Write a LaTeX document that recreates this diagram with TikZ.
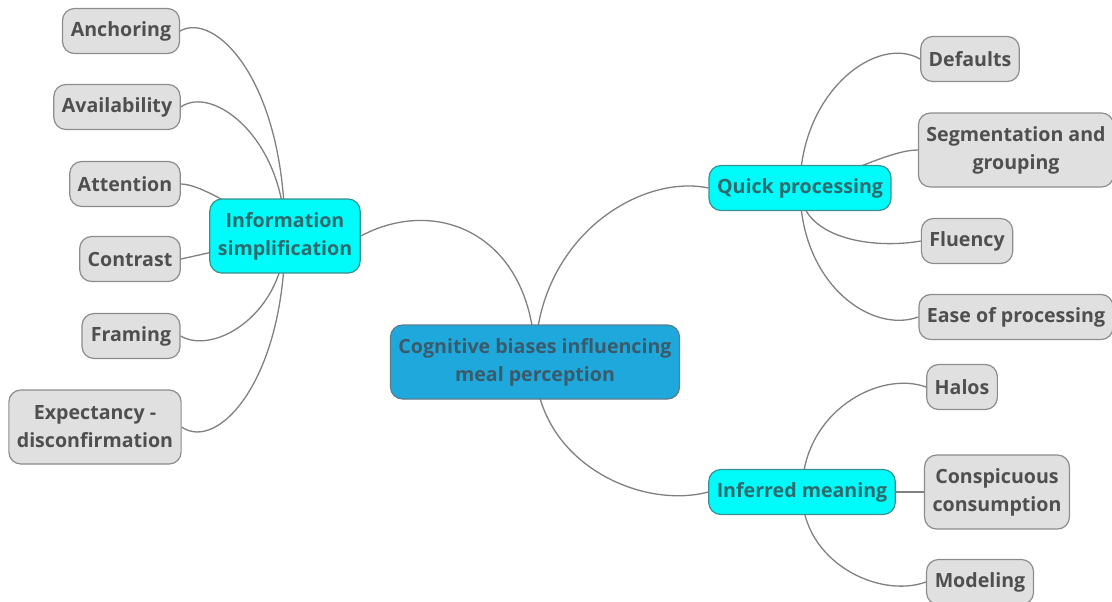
\documentclass[tikz,border=0pt]{standalone}
\usepackage{fontspec}
\setmainfont{Open Sans}
\usetikzlibrary{backgrounds}
\definecolor{leaffill}{HTML}{E0E0E0}
\definecolor{leafline}{HTML}{8C8C8C}
\definecolor{leaftext}{HTML}{4F4F4F}
\definecolor{branchfill}{HTML}{00FBFB}
\definecolor{branchline}{HTML}{3A8F8F}
\definecolor{branchtext}{HTML}{2D6A6C}
\definecolor{rootfill}{HTML}{1FA8DC}
\definecolor{rootline}{HTML}{5B7C8C}
\definecolor{roottext}{HTML}{3B5A6A}
\definecolor{linkgray}{HTML}{808080}
\tikzset{
  topic/.style={rounded corners=6pt, line width=0.6pt, align=center, inner xsep=4pt, inner ysep=3pt,
    minimum height=22.5pt, font=\fontsize{9.8}{14}\selectfont\bfseries},
  leaf/.style={topic, draw=leafline, fill=leaffill, text=leaftext},
  branch/.style={topic, draw=branchline, fill=branchfill, text=branchtext},
  root/.style={topic, draw=rootline, fill=rootfill, text=roottext},
  link/.style={draw=linkgray, line width=0.65pt}
}
\begin{document}
\begin{tikzpicture}[x=0.5pt, y=0.5pt]
    \useasboundingbox (0,0) rectangle (1112,-601);
    \node[root, minimum width=143pt, minimum height=37pt](cog)at(535,-362){Cognitive biases influencing\\meal perception};
    \node[branch, minimum width=74pt, minimum height=37pt](info)at(285,-236){Information\\simplification};
    \node[branch, minimum width=90pt](quick)at(800,-188){Quick processing};
    \node[branch, minimum width=93pt](infer)at(802,-492){Inferred meaning};
    \node[leaf, minimum width=58.5pt](anch)at(121,-31){Anchoring};
    \node[leaf, minimum width=62.5pt](avail)at(117,-107){Availability};
    \node[leaf, minimum width=54.5pt](attn)at(125,-184){Attention};
    \node[leaf, minimum width=50pt](contr)at(130,-259){Contrast};
    \node[leaf, minimum width=49pt](fram)at(131,-336){Framing};
    \node[leaf, minimum width=84.5pt, minimum height=37pt](expect)at(95,-427){Expectancy -\\disconfirmation};
    \node[leaf, minimum width=48.5pt](defl)at(970,-59){Defaults};
    \node[leaf, minimum width=95pt, minimum height=37pt](segm)at(1016,-150){Segmentation and\\grouping};
    \node[leaf, minimum width=45.5pt](flu)at(967,-241){Fluency};
    \node[leaf, minimum width=95pt](ease)at(1016,-317){Ease of processing};
    \node[leaf, minimum width=35pt](halo)at(962,-387){Halos};
    \node[leaf, minimum width=70.5pt, minimum height=37pt](consp)at(997,-492){Conspicuous\\consumption};
    \node[leaf, minimum width=53.5pt](model)at(980,-582){Modeling};
    \begin{scope}[on background layer]
        \draw[link](info.east)to[out=28,in=90,out distance=45pt,in distance=62pt](cog.center);
        \draw[link](quick.west)to[out=168,in=90,out distance=35pt,in distance=62pt](cog.center);
        \draw[link](infer.west)to[out=195,in=-90,out distance=35pt,in distance=50pt](cog.center);
        \draw[link](anch.east)to[out=30,in=90,out distance=20pt,in distance=78pt](info.center);
        \draw[link](avail.east)to[out=35,in=90,out distance=20pt,in distance=48pt](info.center);
        \draw[link](attn.east)to[out=0,in=150,out distance=10pt,in distance=25pt](info.center);
        \draw[link](contr.east)--(info.center);
        \draw[link](fram.east)to[out=-30,in=-90,out distance=20pt,in distance=38pt](info.center);
        \draw[link](expect.east)to[out=-35,in=-90,out distance=22pt,in distance=72pt](info.center);
        \draw[link](defl.west)to[out=150,in=90,out distance=25pt,in distance=48pt](quick.center);
        \draw[link](segm.west)to[out=180,in=15,out distance=14pt,in distance=22pt](quick.center);
        \draw[link](flu.west)to[out=190,in=-90,out distance=25pt,in distance=25pt](quick.center);
        \draw[link](ease.west)to[out=200,in=-90,out distance=25pt,in distance=48pt](quick.center);
        \draw[link](halo.west)to[out=160,in=90,out distance=25pt,in distance=40pt](infer.center);
        \draw[link](consp.west)--(infer.center);
        \draw[link](model.west)to[out=200,in=-90,out distance=25pt,in distance=35pt](infer.center);
    \end{scope}
\end{tikzpicture}
\end{document}
